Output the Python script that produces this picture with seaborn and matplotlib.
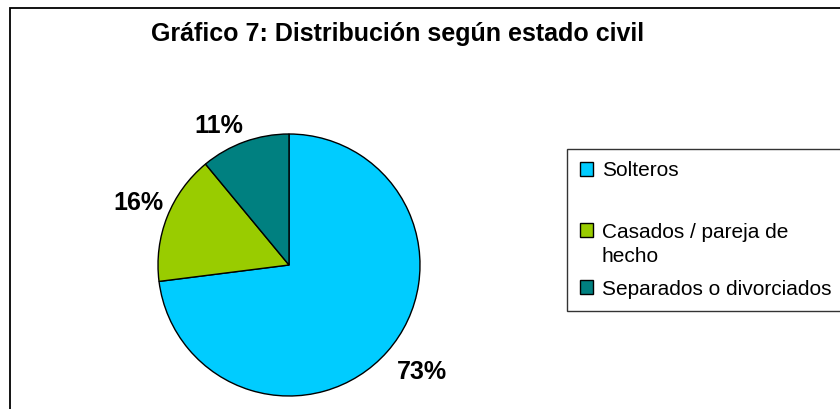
import matplotlib
matplotlib.use("Agg")
import numpy as np
import matplotlib.pyplot as plt
import matplotlib.patches as mpatches
import seaborn as sns

# data
categories = ["Solteros", "Casados / pareja de hecho", "Separados o divorciados"]
legend_labels = ["Solteros", "Casados / pareja de\nhecho", "Separados o divorciados"]
values = [73, 16, 11]
colors = ["#00CCFF", "#99CC00", "#008080"]
title = "Gráfico 7: Distribución según estado civil"

sns.set_theme(style="white")
plt.rcParams["font.family"] = ["Liberation Sans", "DejaVu Sans"]
plt.rcParams["text.color"] = "black"

fig = plt.figure(figsize=(8.4, 4.09), dpi=100)
fig.patch.set_facecolor("white")

# chart frame (runs off right/bottom like the original screenshot)
frame = mpatches.Rectangle((10 / 840, -0.1), 1.2, 1.1 - 8 / 409, transform=fig.transFigure,
                           fill=False, edgecolor="black", linewidth=1.3, clip_on=False)
fig.patches.append(frame)

fig.text(398 / 840, 1 - 34 / 409, title, ha="center", va="center",
         fontsize=18, fontweight="bold", color="black")

ax = fig.add_axes([(289 - 131) / 840, (409 - 396) / 409, 262 / 840, 262 / 409])
wedges, _ = ax.pie(values, colors=colors, startangle=90, counterclock=False,
                   wedgeprops=dict(edgecolor="black", linewidth=1.0))
ax.set_xlim(-1, 1)
ax.set_ylim(-1, 1)
ax.set_aspect("equal")

# "outside end" percentage labels
total = sum(values)
for w, v in zip(wedges, values):
    ang = np.deg2rad((w.theta1 + w.theta2) / 2)
    c, s = np.cos(ang), np.sin(ang)
    r = 1.1 if c > 0 else 1.03
    ax.text(r * c, r * s, f"{round(100 * v / total)}%",
            ha="left" if c > 0 else "right", va="bottom" if s > 0 else "top",
            fontsize=18, fontweight="bold", color="black")

# legend with a small blank spacer row to mimic Excel's uneven slot spacing
blank = mpatches.Patch(facecolor="none", edgecolor="none")
handles = [wedges[0], blank, wedges[1], wedges[2]]
labels = [legend_labels[0], " ", legend_labels[1], legend_labels[2]]
leg = fig.legend(handles, labels, loc="upper left",
                 bbox_to_anchor=(567 / 840, 1 - 149 / 409), borderaxespad=0,
                 fontsize=15, frameon=True, fancybox=False, edgecolor="black",
                 handlelength=0.66, handleheight=0.66, handletextpad=0.4,
                 labelspacing=0.65, borderpad=0.6)
leg.get_frame().set_linewidth(1.0)
for h in leg.legend_handles:
    if h.get_facecolor()[3] > 0:
        h.set_linewidth(1.0)
        h.set_edgecolor("black")
leg.get_texts()[1].set_fontsize(4)
leg.get_texts()[2].set_linespacing(1.35)
# put the two-line entry's swatch next to its first line
rows = leg._legend_handle_box.get_children()[0].get_children()
rows[2].align = "top"

fig.savefig("out.png", dpi=100)
